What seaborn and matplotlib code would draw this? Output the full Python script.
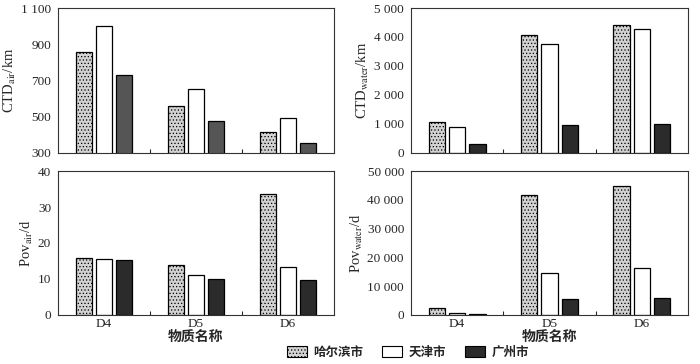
import pandas as pd
import numpy as np
import matplotlib
matplotlib.use('Agg')
import matplotlib.pyplot as plt
import seaborn as sns
from matplotlib.ticker import FuncFormatter, FixedLocator
from matplotlib.patches import Patch

# data
substances = ['D4', 'D5', 'D6']
cities = ['哈尔滨市', '天津市', '广州市']
ctd_air = [[855, 557, 418], [1000, 652, 490], [730, 478, 355]]
ctd_water = [[1050, 4060, 4400], [910, 3770, 4270], [310, 960, 1010]]
pov_air = [[15.8, 14.0, 33.5], [15.5, 11.1, 13.4], [15.3, 10.1, 9.6]]
pov_water = [[2400, 41800, 44700], [500, 14700, 16400], [200, 5600, 5900]]
yticks_ctd_air = [300, 500, 700, 900, 1100]
yticks_ctd_water = [0, 1000, 2000, 3000, 4000, 5000]
yticks_pov_air = [0, 10, 20, 30, 40]
yticks_pov_water = [0, 10000, 20000, 30000, 40000, 50000]


def to_long(vals):
    rows = []
    for c, series in zip(cities, vals):
        for s, v in zip(substances, series):
            rows.append({'物质': s, '城市': c, 'v': v})
    return pd.DataFrame(rows)


sns.set_style('white')
plt.rcParams['font.family'] = ['Liberation Serif', 'Noto Sans CJK SC']
plt.rcParams['mathtext.fontset'] = 'stix'
plt.rcParams['hatch.color'] = '#7a7a7a'
plt.rcParams['hatch.linewidth'] = 0.5

fig = plt.figure(figsize=(7, 3.64), dpi=100)
pos = {
    'tl': [0.083, 0.580, 0.394, 0.398],
    'tr': [0.587, 0.580, 0.396, 0.398],
    'bl': [0.083, 0.135, 0.394, 0.395],
    'br': [0.587, 0.135, 0.396, 0.395],
}
panels = [
    ('tl', ctd_air, r'CTD$_{\mathrm{air}}$/km', yticks_ctd_air, '#555555'),
    ('tr', ctd_water, r'CTD$_{\mathrm{water}}$/km', yticks_ctd_water, '#2b2b2b'),
    ('bl', pov_air, r'Pov$_{\mathrm{air}}$/d', yticks_pov_air, '#2b2b2b'),
    ('br', pov_water, r'Pov$_{\mathrm{water}}$/d', yticks_pov_water, '#2b2b2b'),
]

fmt = FuncFormatter(lambda v, p: f'{int(v):,}'.replace(',', ' '))
light = '#d2d2d2'
hatch = '.....'

for key, vals, ylab, yt, dark in panels:
    ax = fig.add_axes(pos[key])
    df = to_long(vals)
    sns.barplot(data=df, x='物质', y='v', hue='城市', ax=ax,
                palette=[light, 'white', dark], width=0.66, gap=0.2,
                edgecolor='black', linewidth=0.9, legend=False)
    for bar_i, bar in enumerate(ax.patches):
        if bar_i < 3:
            bar.set_hatch(hatch)
    ax.set_ylim(yt[0], yt[-1])
    ax.set_xlim(-0.5, 2.5)
    ax.yaxis.set_major_locator(FixedLocator(yt))
    ax.yaxis.set_major_formatter(fmt)
    ax.set_ylabel(ylab, fontsize=10.5, labelpad=2)
    ax.tick_params(axis='y', direction='out', length=3, width=0.8, labelsize=9.5, pad=2)
    ax.xaxis.set_minor_locator(FixedLocator([0.5, 1.5]))
    ax.tick_params(axis='x', which='major', length=0, labelsize=9.5, pad=2)
    ax.tick_params(axis='x', which='minor', direction='in', length=3, width=0.8, bottom=True)
    for sp in ax.spines.values():
        sp.set_color('#333333')
        sp.set_linewidth(0.8)
    if key in ('tl', 'tr'):
        ax.set_xticklabels([])
        ax.set_xlabel('')
    else:
        ax.set_xlabel('物质名称', fontsize=10, fontweight='bold',
                      family=['Noto Sans CJK SC'], labelpad=0)

handles = [Patch(facecolor=light, edgecolor='black', hatch=hatch, linewidth=0.8),
           Patch(facecolor='white', edgecolor='black', linewidth=0.8),
           Patch(facecolor='#2b2b2b', edgecolor='black', linewidth=0.8)]
fig.legend(handles, cities, loc='center', bbox_to_anchor=(0.583, 0.032), ncol=3,
           frameon=False, prop={'family': 'Noto Sans CJK SC', 'weight': 'bold', 'size': 9},
           handlelength=1.6, handleheight=0.9, columnspacing=1.5, handletextpad=0.5)

fig.savefig('out.png', dpi=100)
